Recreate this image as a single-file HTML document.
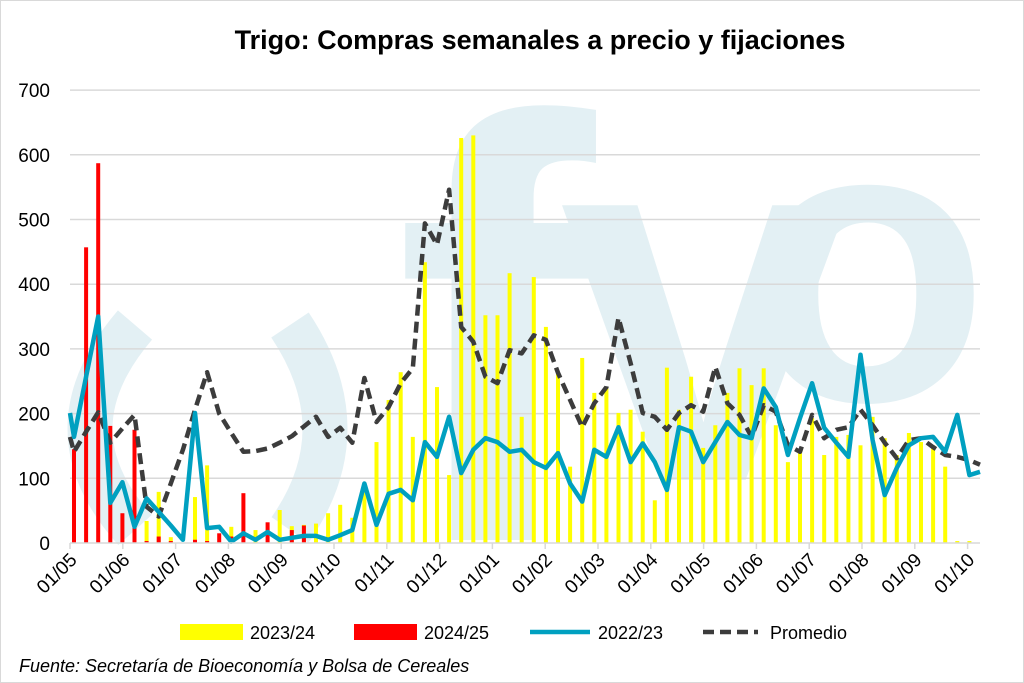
<!DOCTYPE html>
<html><head><meta charset="utf-8">
<style>
html,body{margin:0;padding:0;background:#fff;}
svg{display:block;font-family:"Liberation Sans",sans-serif;}
</style></head>
<body>
<svg id="c" width="1024" height="683" xmlns="http://www.w3.org/2000/svg">
<rect x="0.5" y="0.5" width="1023" height="682" fill="#fff" stroke="#d9d9d9"/>
<g fill="#e3f0f4" stroke="none">
 <text x="395" y="540" font-size="600" font-weight="bold" font-family="Liberation Sans, sans-serif">f</text>
 <text x="560" y="480" font-size="520" font-weight="bold" font-family="Liberation Sans, sans-serif">v</text>
 <text x="745" y="400" font-size="400" font-weight="bold" font-family="Liberation Sans, sans-serif">o</text>
</g>
<g fill="none" stroke="#e3f0f4" stroke-width="45">
 <path d="M135 325 Q45 430 135 530"/>
 <path d="M290 325 Q360 430 290 530"/>
</g>
<g id="grid" stroke="#d9d9d9" stroke-width="1.5"></g>
<g id="bars"></g>
<g id="lines"></g>
<g id="axis"></g>
<text x="540" y="49" text-anchor="middle" font-size="27" font-weight="bold" fill="#000">Trigo: Compras semanales a precio y fijaciones</text>
<rect x="180" y="624" width="63" height="16" fill="#ffff00"/>
<text x="250" y="639" font-size="18" fill="#000">2023/24</text>
<rect x="354" y="624" width="63" height="16" fill="#ff0000"/>
<text x="424" y="639" font-size="18" fill="#000">2024/25</text>
<line x1="530" y1="632" x2="590" y2="632" stroke="#00a0c0" stroke-width="4.5"/>
<text x="598" y="639" font-size="18" fill="#000">2022/23</text>
<line x1="703" y1="632" x2="758" y2="632" stroke="#3c3c3c" stroke-width="4.5" stroke-dasharray="11,6"/>
<text x="770" y="639" font-size="18" fill="#000">Promedio</text>
<text x="19" y="672" font-size="18" font-style="italic" fill="#000">Fuente: Secretaría de Bioeconomía y Bolsa de Cereales</text>
</svg>
<script>
var NS="http://www.w3.org/2000/svg";
function el(p,t,a,txt){var e=document.createElementNS(NS,t);for(var k in a)e.setAttribute(k,a[k]);if(txt!=null)e.textContent=txt;document.getElementById(p).appendChild(e);return e;}
function Y(v){return 543-v*0.647;}
function X(i){return 74+12.1*i;}
for(var v=100;v<=700;v+=100){el("grid","line",{x1:70,x2:980,y1:Y(v),y2:Y(v)});}
for(var v=0;v<=700;v+=100){el("axis","text",{x:50,y:Y(v)+7,"text-anchor":"end","font-size":"19",fill:"#000"},String(v));}
var yel=[0,0,0,0,0,0,34,79,9,0,71,120,0,25,0,20,0,51,26,28,30,46,59,39,92,156,221,264,164,434,241,105,626,630,352,352,417,195,411,334,263,118,286,232,241,201,206,172,66,271,206,257,147,182,232,270,244,270,182,125,144,193,136,164,167,151,195,162,136,170,156,151,118,3,3];
var red={0:145,1:457,2:587,3:181,4:46,5:175,6:3,7:10,8:3,10:5,11:3,12:15,13:10,14:77,16:32,18:20,19:27};
yel.forEach(function(v,i){if(v>0)el("bars","rect",{x:X(i)-2,y:Y(v),width:4,height:v*0.647,fill:"#ffff00"});});
for(var k in red){var v=red[k];el("bars","rect",{x:X(+k)-2,y:Y(v),width:4,height:v*0.647,fill:"#ff0000"});}
var blue=[164,257,350,62,94,25,69,48,27,5,201,23,25,2,15,5,17,5,8,11,11,5,12,20,92,28,76,82,66,156,133,195,108,144,162,156,141,144,125,116,139,92,64,144,133,179,125,154,125,82,179,172,125,156,187,167,162,239,210,136,193,247,178,155,133,291,159,74,116,151,162,164,141,198,105];
var dash=[141,172,202,155,177,198,56,41,92,144,206,264,200,170,141,142,146,155,165,180,195,164,178,155,255,187,210,247,270,494,461,546,334,311,257,247,298,293,321,314,263,221,179,216,241,348,278,201,195,175,201,213,203,272,216,198,164,213,203,151,141,198,162,175,179,206,182,155,131,159,162,148,136,133,128];
function pts(arr,s,e){var p=[[70,s]];arr.forEach(function(v,i){p.push([X(i),v]);});p.push([980,e]);return p.map(function(q){return q[0].toFixed(1)+","+Y(q[1]).toFixed(1);}).join(" ");}
el("lines","polyline",{points:pts(dash,164,121),fill:"none",stroke:"#3c3c3c","stroke-width":"4.5","stroke-dasharray":"11,6","stroke-linejoin":"round"});
el("lines","polyline",{points:pts(blue,201,110),fill:"none",stroke:"#00a0c0","stroke-width":"4.5","stroke-linejoin":"round"});
el("axis","line",{x1:70,x2:980,y1:543,y2:543,stroke:"#d9d9d9","stroke-width":"1.5"});
var m=["01/05","01/06","01/07","01/08","01/09","01/10","01/11","01/12","01/01","01/02","01/03","01/04","01/05","01/06","01/07","01/08","01/09","01/10"];
m.forEach(function(t,k){var x=70+52.8*k;el("axis","line",{x1:x,x2:x,y1:543,y2:549,stroke:"#d9d9d9","stroke-width":"1.5"});
el("axis","text",{x:x+8,y:561,"text-anchor":"end","font-size":"19",fill:"#000",transform:"rotate(-45 "+(x+8)+" 561)"},t);});
</script>
</body></html>
